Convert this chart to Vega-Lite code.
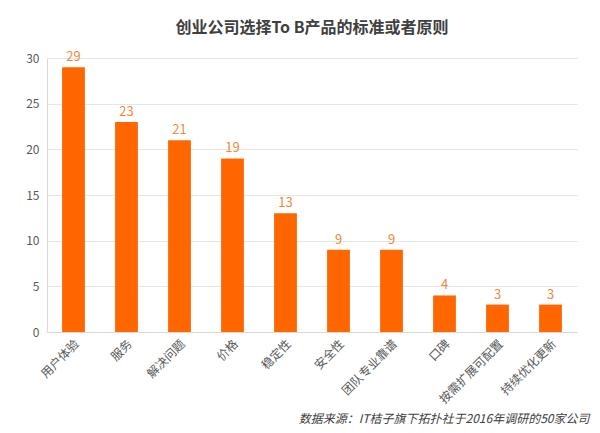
{
  "$schema": "https://vega.github.io/schema/vega-lite/v6.json",
  "autosize": "none",
  "width": 530,
  "height": 274,
  "padding": {"left": 47, "top": 58, "right": 23, "bottom": 101},
  "background": "white",
  "title": {
    "text": "创业公司选择To B产品的标准或者原则",
    "font": "Noto Sans CJK SC",
    "fontSize": 16,
    "fontWeight": "bold",
    "color": "#404040",
    "anchor": "middle",
    "offset": 15
  },
  "data": {
    "values": [
      {"c": "用户体验", "v": 29},
      {"c": "服务", "v": 23},
      {"c": "解决问题", "v": 21},
      {"c": "价格", "v": 19},
      {"c": "稳定性", "v": 13},
      {"c": "安全性", "v": 9},
      {"c": "团队专业靠谱", "v": 9},
      {"c": "口碑", "v": 4},
      {"c": "按需扩展可配置", "v": 3},
      {"c": "持续优化更新", "v": 3}
    ]
  },
  "config": {
    "view": {"stroke": null},
    "font": "Noto Sans CJK SC"
  },
  "encoding": {
    "x": {
      "field": "c", "type": "nominal", "sort": null,
      "scale": {"paddingInner": 0.57, "paddingOuter": 0.285},
      "axis": {
        "title": "数据来源：IT桔子旗下拓扑社于2016年调研的50家公司",
        "titleFontStyle": "italic",
        "titleFontWeight": "normal",
        "titleFontSize": 12,
        "titleColor": "#404040",
        "titleAnchor": "end",
        "titleAlign": "right",
        "titleBaseline": "middle",
        "titleX": 542,
        "titleY": 86,
        "labelAngle": -45,
        "labelAlign": "right",
        "labelBaseline": "top",
        "labelFontSize": 12,
        "labelColor": "#595959",
        "labelPadding": 6,
        "ticks": false,
        "domainColor": "#d9d9d9"
      }
    },
    "y": {
      "field": "v", "type": "quantitative",
      "scale": {"domain": [0, 30]},
      "axis": {
        "title": null,
        "values": [0, 5, 10, 15, 20, 25, 30],
        "labelFontSize": 12,
        "labelColor": "#595959",
        "labelPadding": 8,
        "ticks": false,
        "domain": true,
        "domainColor": "#d9d9d9",
        "gridColor": "#e6e6e6"
      }
    }
  },
  "layer": [
    {"mark": {"type": "bar", "color": "#FF6600"}},
    {
      "mark": {"type": "text", "dy": -10, "fontSize": 13, "color": "#F08A3C"},
      "encoding": {"text": {"field": "v", "type": "quantitative"}}
    }
  ]
}
